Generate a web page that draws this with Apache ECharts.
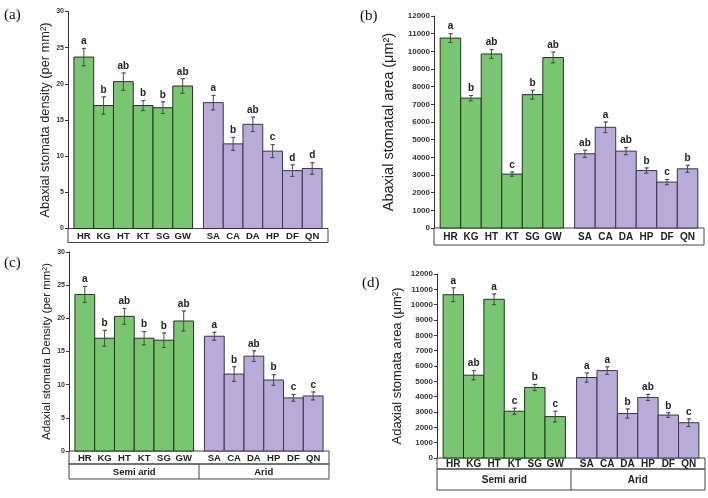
<!DOCTYPE html>
<html>
<head>
<meta charset="utf-8">
<script src="https://cdn.jsdelivr.net/npm/echarts@6/dist/echarts.min.js"></script>
<style>html,body{margin:0;padding:0;background:#fff}#c{width:708px;height:498px}</style>
</head>
<body>
<div id="c"></div>
<script>
// ---- data ----
const categories = ['HR','KG','HT','KT','SG','GW','SA','CA','DA','HP','DF','QN'];
const groups = ['Semi arid','Arid'];
const groupSize = 6;

const abaxDensity    = [23.7, 17.0, 20.3, 17.0, 16.7, 19.7, 17.4, 11.7, 14.4, 10.7, 8.0, 8.3];
const abaxDensityErr = [1.2, 1.2, 1.2, 0.7, 0.8, 1.0, 1.0, 0.9, 1.0, 0.9, 0.8, 0.8];
const abaxDensityLet = ['a','b','ab','b','b','ab','a','b','ab','c','d','d'];

const abaxArea    = [10750, 7350, 9850, 3050, 7550, 9650, 4200, 5700, 4350, 3250, 2600, 3350];
const abaxAreaErr = [250, 150, 250, 120, 250, 300, 200, 300, 200, 150, 150, 200];
const abaxAreaLet = ['a','b','ab','c','b','ab','ab','a','ab','b','c','b'];

const adaxDensity    = [23.6, 17.0, 20.3, 17.0, 16.7, 19.6, 17.3, 11.6, 14.3, 10.7, 8.0, 8.3];
const adaxDensityErr = [1.2, 1.2, 1.2, 1.0, 1.1, 1.5, 0.6, 1.1, 0.8, 0.8, 0.5, 0.6];
const adaxDensityLet = ['a','b','ab','b','b','ab','a','b','ab','b','c','c'];

const adaxArea    = [10650, 5400, 10350, 3050, 4600, 2700, 5250, 5700, 2900, 3950, 2800, 2300];
const adaxAreaErr = [450, 300, 350, 200, 200, 350, 300, 250, 300, 200, 150, 250];
const adaxAreaLet = ['a','ab','a','c','b','c','a','a','b','ab','b','c'];

// ---- layout ----
const GAP = 0.55;
const pos = categories.map((c, i) => i + (i >= groupSize ? GAP : 0));
const xMin = -0.8, xMax = (categories.length - 1) + GAP + 0.8;
const GREEN = '#78c770', PURPLE = '#b9abd8';
const FONT = '"Liberation Sans", Arial, sans-serif';

const panels = [
  {tag:'(a)', tagPos:[4,8], name:'Abaxial stomata density (per mm²)', nameSize:12.8, nameGap:14,
   vals:abaxDensity, errs:abaxDensityErr, lets:abaxDensityLet, max:30, interval:5,
   grid:{left:68, top:11.5, width:260, height:217}, rows:[14], tick:7, cat:9.5},
  {tag:'(b)', tagPos:[360,9], name:'Abaxial stomatal area (μm²)', nameSize:14.5, nameGap:38,
   vals:abaxArea, errs:abaxAreaErr, lets:abaxAreaLet, max:12000, interval:1000,
   grid:{left:434, top:16, width:270, height:212}, rows:[17], tick:8, cat:10},
  {tag:'(c)', tagPos:[4,256], name:'Adaxial stomata Density (per mm²)', nameSize:11.5, nameGap:16,
   vals:adaxDensity, errs:adaxDensityErr, lets:adaxDensityLet, max:30, interval:5,
   grid:{left:69, top:252, width:260, height:199}, rows:[13,15], tick:7, cat:9.5},
  {tag:'(d)', tagPos:[362,276], name:'Adaxial stomata area (μm²)', nameSize:13, nameGap:33,
   vals:adaxArea, errs:adaxAreaErr, lets:adaxAreaLet, max:12000, interval:1000,
   grid:{left:437, top:274, width:268, height:184}, rows:[11,21], tick:8, cat:10}
];

function makeRender(p) {
  return function (params, api) {
    const i = params.dataIndex;
    const x = api.value(0), v = api.value(1), e = api.value(2);
    const tl = api.coord([x - 0.5, v]);
    const br = api.coord([x + 0.5, 0]);
    const top = api.coord([x, v + e]);
    const bot = api.coord([x, v - e]);
    const green = i < groupSize;
    const fill = green ? GREEN : PURPLE;
    const stroke = green ? '#23331f' : '#3a3150';
    const ebColor = green ? '#3f5a3a' : '#4d4466';
    const cx = (tl[0] + br[0]) / 2;
    const ty = top[1], by = bot[1];
    return {
      type:'group',
      children:[
        {type:'rect', shape:{x:tl[0], y:tl[1], width:br[0]-tl[0], height:br[1]-tl[1]},
         style:{fill:fill, stroke:stroke, lineWidth:1}},
        {type:'polyline', shape:{points:[[cx-2,ty],[cx+2,ty],[cx,ty],[cx,by],[cx-2,by],[cx+2,by]]},
         style:{stroke:ebColor, lineWidth:1, fill:null}},
        {type:'text', x:cx, y:ty-2, style:{text:p.lets[i], fill:'#222', font:'bold 10px ' + FONT, align:'center', verticalAlign:'bottom'}},
        {type:'text', x:cx, y:br[1] + p.rows[0]/2 + 0.5, style:{text:categories[i], fill:'#222', font:'bold ' + p.cat + 'px ' + FONT, align:'center', verticalAlign:'middle'}}
      ]
    };
  };
}

// decorations: label boxes, group labels, panel tags (from the same grid layout)
const gfx = [];
panels.forEach((p) => {
  const g = p.grid;
  const toPx = (xv) => g.left + (xv - xMin) / (xMax - xMin) * g.width;
  let y = g.top + g.height;
  gfx.push({type:'rect', shape:{x:g.left, y:y, width:g.width, height:p.rows[0]}, style:{fill:'none', stroke:'#444', lineWidth:1}});
  y += p.rows[0];
  if (p.rows.length > 1) {
    gfx.push({type:'rect', shape:{x:g.left, y:y, width:g.width, height:p.rows[1]}, style:{fill:'none', stroke:'#444', lineWidth:1}});
    const divX = toPx((pos[groupSize-1] + pos[groupSize]) / 2);
    gfx.push({type:'line', shape:{x1:divX, y1:y, x2:divX, y2:y+p.rows[1]}, style:{stroke:'#444', lineWidth:1}});
    const c1 = toPx((pos[0] + pos[groupSize-1]) / 2);
    const c2 = toPx((pos[groupSize] + pos[categories.length-1]) / 2);
    [c1, c2].forEach((cx, j) => gfx.push({type:'text', x:cx, y:y + p.rows[1]/2 + 0.5,
      style:{text:groups[j], fill:'#222', font:'bold ' + p.cat + 'px ' + FONT, align:'center', verticalAlign:'middle'}}));
  }
  gfx.push({type:'text', x:p.tagPos[0], y:p.tagPos[1], style:{text:p.tag, fill:'#111', font:'15px "Liberation Serif", "DejaVu Serif", serif'}});
});

const chart = echarts.init(document.getElementById('c'), null, {renderer:'canvas'});
const option = {
  animation:false,
  backgroundColor:'#fff',
  grid: panels.map(p => Object.assign({containLabel:false}, p.grid)),
  xAxis: panels.map((p, k) => ({type:'value', gridIndex:k, min:xMin, max:xMax, show:false})),
  yAxis: panels.map((p, k) => ({
    type:'value', gridIndex:k, min:0, max:p.max, interval:p.interval,
    name:p.name, nameLocation:'middle', nameGap:p.nameGap, nameRotate:90,
    nameTextStyle:{fontSize:p.nameSize, color:'#222', fontFamily:FONT},
    axisLine:{show:true, onZero:false, lineStyle:{color:'#333', width:1}},
    axisTick:{show:true, length:3, lineStyle:{color:'#333'}},
    axisLabel:{fontSize:p.tick, color:'#333', fontWeight:'bold', margin:4, fontFamily:FONT, formatter:(v) => String(v)},
    splitLine:{show:false}
  })),
  series: panels.map((p, k) => ({
    type:'custom', xAxisIndex:k, yAxisIndex:k, clip:false,
    renderItem: makeRender(p),
    data: p.vals.map((v, i) => [pos[i], v, p.errs[i]])
  })),
  graphic: gfx
};
chart.setOption(option);
</script>
</body>
</html>
